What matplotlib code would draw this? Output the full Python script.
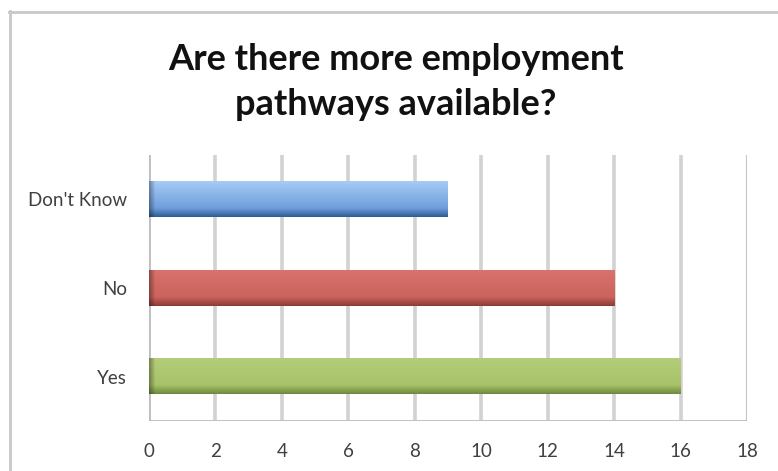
import numpy as np
import matplotlib.pyplot as plt
from matplotlib.lines import Line2D
from matplotlib.colors import to_rgb

# -------------------------
# Data
# -------------------------
categories = ["Yes", "No", "Don't Know"]
counts = [16, 14, 9]
x_ticks = [0, 2, 4, 6, 8, 10, 12, 14, 16, 18]

# top / middle / bottom shades for each bar
bar_shades = {
    "Yes": ("#b4cd7a", "#a8c26a", "#6f8a3f"),
    "No": ("#d8726c", "#cc635d", "#8c3c38"),
    "Don't Know": ("#a6cbf6", "#6f9fdc", "#2f5d96"),
}

plt.rcParams["font.family"] = ["Lato", "DejaVu Sans"]

W, H = 778, 471
fig = plt.figure(figsize=(W / 100, H / 100), dpi=100)
fig.patch.set_facecolor("white")

ax = fig.add_axes([149 / W, 50 / H, 598 / W, 266 / H])

bar_h = 0.4


def bar_image(top, mid, bot, length, n=60, per_unit=40):
    top, mid, bot = (np.array(to_rgb(c)) for c in (top, mid, bot))
    t = np.linspace(0, 1, n)[:, None]
    col = np.where(t < 0.75,
                   top + (mid - top) * (t / 0.75),
                   mid + (bot - mid) * ((t - 0.75) / 0.25))
    m = int(length * per_unit)
    img = np.repeat(col[:, None, :], m, axis=1)
    # darker left end, like the side face of a 3-D bar
    s = np.linspace(0, length, m)
    shade = 1 - 0.35 * np.clip(1 - s / 0.18, 0, 1)
    return img * shade[None, :, None]


for i, (cat, val) in enumerate(zip(categories, counts)):
    img = bar_image(*bar_shades[cat], val)
    # row 0 of the image is the top edge of the bar
    ax.imshow(img, extent=(0, val, i - bar_h / 2, i + bar_h / 2),
              origin="upper", aspect="auto", interpolation="bilinear",
              zorder=3)

ax.set_xlim(0, 18)
ax.set_ylim(-0.5, 2.5)

# vertical gridlines
for x in x_ticks[1:-1]:
    ax.axvline(x, color="#d2d2d2", lw=2.6, zorder=1)
ax.axvline(0, color="#bdbdbd", lw=2, zorder=2)
ax.axvline(18, color="#c4c4c4", lw=1.5, zorder=2)
ax.axhline(-0.5, color="#bcbcbc", lw=2, zorder=2)

for sp in ax.spines.values():
    sp.set_visible(False)

ax.set_xticks(x_ticks)
ax.set_xticklabels([str(v) for v in x_ticks])
ax.set_yticks(range(len(categories)))
ax.set_yticklabels(categories)
ax.tick_params(axis="both", length=0, labelsize=13.5, colors="#404040")
ax.tick_params(axis="x", pad=16)
ax.tick_params(axis="y", pad=16)

fig.text(396 / W, 1 - 82 / H,
         "Are there more employment\npathways available?",
         ha="center", va="center", fontsize=26, fontweight="bold",
         color="#111111", linespacing=1.45)

# chart frame
fig.add_artist(Line2D([9.5 / W, 9.5 / W], [0, 1 - 11 / H],
                      color="#c8c8c8", lw=2, transform=fig.transFigure))
fig.add_artist(Line2D([9 / W, 1], [1 - 11.5 / H, 1 - 11.5 / H],
                      color="#c8c8c8", lw=2, transform=fig.transFigure))

fig.savefig("out.png", dpi=100)
